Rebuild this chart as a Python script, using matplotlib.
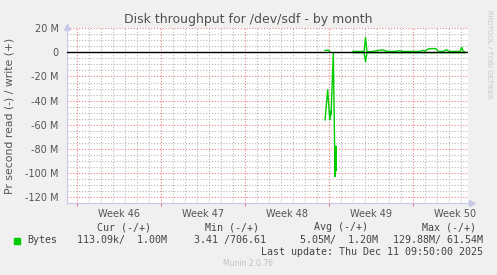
import numpy as np
import matplotlib.pyplot as plt

# x axis: days since Mon 10 Nov 2025 (start of week 46), y axis in M
week_labels = ["Week 46", "Week 47", "Week 48", "Week 49", "Week 50"]
week_starts = [0, 7, 14, 21, 28]
nan = np.nan

# write (+)
write_days = [20.67, 20.83, 20.97, 21.08, nan,
              23.0, 23.5, 23.92, 24.04, 24.17, 24.58, 25.33, 25.58, 25.83,
              26.5, 26.92, 27.08, 28.58, 28.83, 29.0, 29.25, 29.58, 29.92,
              30.08, 30.5, 30.8, 31.0, 31.5, 31.92, 32.06, 32.2, 32.33]
write_mb = [1.6, 1.8, 1.7, 0.3, nan,
            0.8, 0.8, 0.8, 12.4, 0.6, 0.7, 2.0, 1.8, 0.8,
            0.8, 1.5, 0.8, 0.8, 1.8, 1.0, 2.8, 3.2, 3.0,
            0.8, 0.8, 2.2, 0.8, 0.8, 0.8, 4.2, 0.3, 0.6]

# read (-)
read_days = [20.67, 20.89, 21.06, 21.11, 21.17, 21.36, 21.5, 21.58, 21.61, nan,
             23.0, 23.92, 24.04, 24.17, 26.0, 29.0, 32.33]
read_mb = [-56, -31, -56, -49, -52, 0, -103, -78, -98, nan,
           -0.2, -0.2, -7.8, -0.2, -0.2, -0.2, -0.2]

legend_cols = ["Cur (-/+)", "Min (-/+)", "Avg (-/+)", "Max (-/+)"]
legend_vals = ["113.09k/  1.00M", "3.41 /706.61", "5.05M/  1.20M", "129.88M/ 61.54M"]

W, H = 497, 275
fig = plt.figure(figsize=(W / 100, H / 100), dpi=100, facecolor="#f0f0f0")
ax = fig.add_axes([67 / W, 1 - 203 / H, (468 - 67) / W, (203 - 28.3) / H])
ax.set_facecolor("white")

x0, x1 = -0.83, 32.58
ax.set_xlim(x0, x1)
ax.set_ylim(-125, 20)

# grid
dot = (0, (1, 1.6))
for d in np.arange(-0, 33, 1):
    if d not in week_starts:
        ax.axvline(d, color="#b8b8b8", lw=0.8, ls=dot, zorder=0)
for v in np.arange(-120, 21, 5):
    if v % 20:
        ax.axhline(v, color="#b8b8b8", lw=0.8, ls=dot, zorder=0)
for d in week_starts:
    ax.axvline(d, color="#e88080", lw=0.8, ls=dot, zorder=0.5)
for v in range(-120, 21, 20):
    ax.axhline(v, color="#e88080", lw=0.8, ls=dot, zorder=0.5)

ax.plot(write_days, write_mb, color="#00cc00", lw=1.0, zorder=2)
ax.plot(read_days, read_mb, color="#00cc00", lw=1.0, zorder=2)
ax.axhline(0, color="black", lw=1.0, zorder=3)

for s in ["top", "right"]:
    ax.spines[s].set_visible(False)
for s in ["left", "bottom"]:
    ax.spines[s].set_color("#c8c8e8")
    ax.spines[s].set_linewidth(0.8)
# arrow heads
ax.plot([x0], [21.2], marker="^", color="#c8c8e8", ms=5, clip_on=False)
ax.plot([x1 + 0.3], [-125], marker=">", color="#c8c8e8", ms=5, clip_on=False)

yt = list(range(-120, 21, 20))
ax.set_yticks(yt)
ax.set_yticklabels(["0" if v == 0 else f"{v} M" for v in yt])
ax.tick_params(axis="y", length=0, pad=6, labelsize=7, labelcolor="#555555")

ax.set_xticks(week_starts)
ax.set_xticklabels([])
ax.tick_params(axis="x", length=2, color="#e07070", direction="out")
for d, lab in zip(week_starts, week_labels):
    ax.text(d + 3.5, -130, lab, ha="center", va="top", fontsize=7, color="#555555")

fig.text(248 / W, 1 - 19 / H, "Disk throughput for /dev/sdf - by month",
         ha="center", va="center", fontsize=9, color="#505050")
fig.text(10 / W, 1 - 116 / H, "Pr second read (-) / write (+)", rotation=90,
         ha="center", va="center", fontsize=7.8, color="#555555")
fig.text(489 / W, 1 - 10 / H, "RRDTOOL / TOBI OETIKER", rotation=270,
         ha="center", va="top", fontsize=5, color="#c8c8c8")

mono = dict(family="DejaVu Sans Mono", fontsize=7.2, color="#444444", va="center")
col_ends = [151, 259, 368, 476]
val_ends = [167, 266, 378, 483]
for e, t in zip(col_ends, legend_cols):
    fig.text(e / W, 1 - 227 / H, t, ha="right", **mono)
fig.patches.append(plt.Rectangle((14 / W, 1 - 243.5 / H), 6 / W, 6 / H,
                                 transform=fig.transFigure, color="#00cc00"))
fig.text(27 / W, 1 - 240 / H, "Bytes", ha="left", **mono)
for e, t in zip(val_ends, legend_vals):
    fig.text(e / W, 1 - 240 / H, t, ha="right", **mono)
fig.text(483 / W, 1 - 252 / H, "Last update: Thu Dec 11 09:50:00 2025", ha="right", **mono)
fig.text(248 / W, 1 - 264 / H, "Munin 2.0.76", ha="center", va="center",
         fontsize=5.5, color="#c0c0c0")

fig.savefig("out.png", dpi=100, facecolor=fig.get_facecolor())
